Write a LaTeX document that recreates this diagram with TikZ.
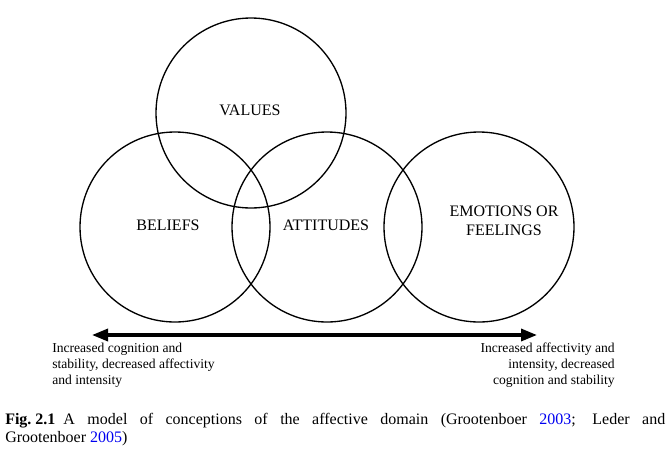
\documentclass[tikz,border=0pt]{standalone}
\usepackage{fontspec}
\setmainfont{Liberation Serif}
\usetikzlibrary{arrows.meta}
\definecolor{citeblue}{RGB}{0,0,240}
\begin{document}
\begin{tikzpicture}[x=0.75pt,y=-0.75pt]
\useasboundingbox (0,0) rectangle (670,457);
\node[draw, circle, line width=1pt, minimum size=142.5pt] (values) at (251,113) {};
\node[draw, circle, line width=1pt, minimum size=142.5pt] (beliefs) at (175,227) {};
\node[draw, circle, line width=1pt, minimum size=142.5pt] (attitudes) at (327,227) {};
\node[draw, circle, line width=1pt, minimum size=142.5pt] (emotions) at (479,227) {};
\node[font=\fontsize{12}{14}\selectfont] (valuestext) at (250,110) {VALUES};
\node[font=\fontsize{12}{14}\selectfont] (beliefstext) at (168,225) {BELIEFS};
\node[font=\fontsize{12}{14}\selectfont] (attitudestext) at (326,225) {ATTITUDES};
\node[font=\fontsize{12}{14.6}\selectfont, align=center] (emotionstext) at (504,221) {EMOTIONS OR\\ FEELINGS};
\coordinate (leftend) at (92,335);
\coordinate (rightend) at (537,335);
\draw[{Triangle[length=12pt,width=9pt]}-{Triangle[length=12pt,width=9pt]}, line width=2.5pt] (leftend) -- (rightend);
\node[font=\fontsize{10.2}{12}\selectfont, align=left, anchor=north west, inner sep=0pt] (cognition) at (52,343) {Increased cognition and\\ stability, decreased affectivity\\ and intensity};
\node[font=\fontsize{10.2}{12}\selectfont, align=right, anchor=north east, inner sep=0pt] (affectivity) at (615,343) {Increased affectivity and\\ intensity, decreased\\ cognition and stability};
\node[font=\fontsize{12}{13.3}\selectfont, text width=495pt, align=justify, anchor=north west, inner sep=0pt] (caption) at (5,413) {\mbox{\textbf{Fig.\ 2.1}}\enspace A model of conceptions of the affective domain (Grootenboer \textcolor{citeblue}{2003}; Leder and\linebreak Grootenboer \textcolor{citeblue}{2005})};
\end{tikzpicture}
\end{document}
